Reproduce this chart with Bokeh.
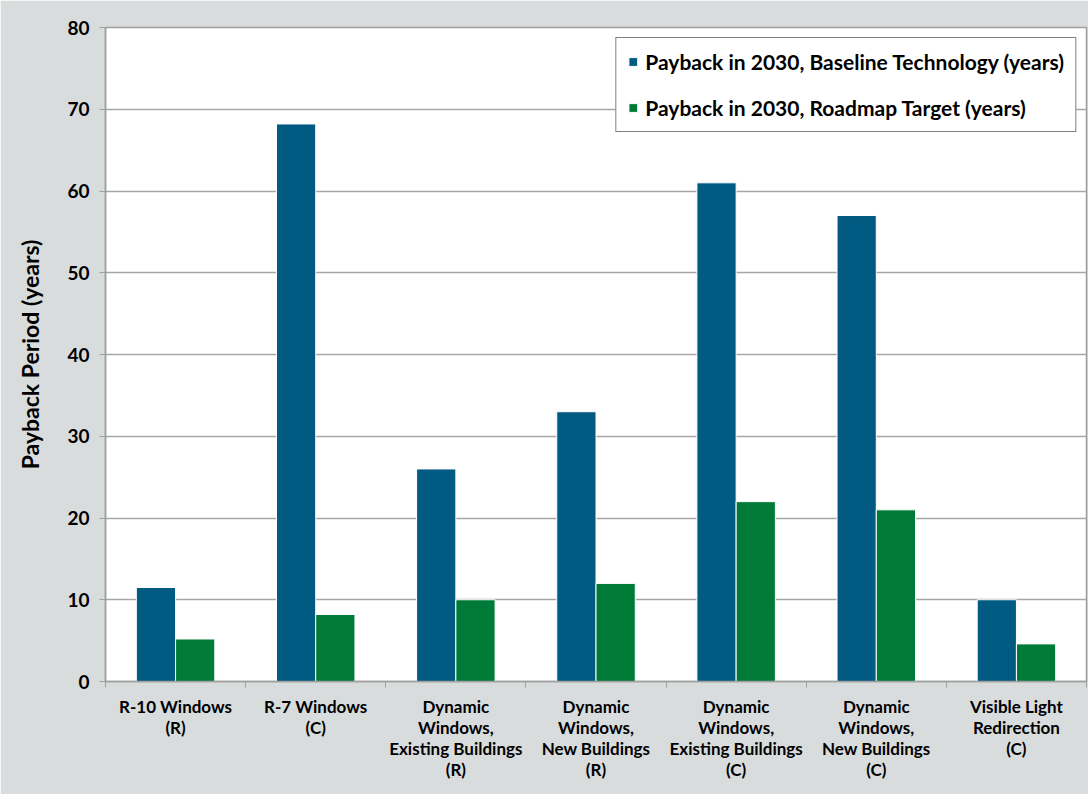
from bokeh.plotting import figure
from bokeh.models import ColumnDataSource, FixedTicker, Legend, LegendItem, Range1d
from bokeh.transform import dodge
from bokeh.embed import file_html
from bokeh.resources import INLINE

categories = ["R-10 Windows\n(R)", "R-7 Windows\n(C)",
              "Dynamic\nWindows,\nExisting Buildings\n(R)",
              "Dynamic\nWindows,\nNew Buildings\n(R)",
              "Dynamic\nWindows,\nExisting Buildings\n(C)",
              "Dynamic\nWindows,\nNew Buildings\n(C)",
              "Visible Light\nRedirection\n(C)"]
baseline = [11.5, 68.2, 26, 33, 61, 57, 10]
roadmap = [5.2, 8.2, 10, 12, 22, 21, 4.6]
y_ticks = [0, 10, 20, 30, 40, 50, 60, 70, 80]
series_names = ["Payback in 2030, Baseline Technology (years)",
                "Payback in 2030, Roadmap Target (years)"]

FONT = "Lato"
BG = "#d9dcdd"
BLUE = "#005a82"
GREEN = "#007a37"

pos = [i + 0.5 for i in range(len(categories))]
src = ColumnDataSource(dict(x=pos, base=baseline, road=roadmap))

p = figure(width=1088, height=794, output_backend="svg", toolbar_location=None,
           x_range=Range1d(0, len(categories)), y_range=Range1d(0, 80),
           min_border_left=105, min_border_right=2, min_border_top=27, min_border_bottom=113)
p.background_fill_color = "white"
p.border_fill_color = BG
p.outline_line_color = "#a0a0a0"
p.outline_line_width = 1.5

r1 = p.vbar(x=dodge("x", -0.14, range=p.x_range), top="base", width=0.28, source=src,
            fill_color=BLUE, line_color="white", line_width=1)
r2 = p.vbar(x=dodge("x", 0.14, range=p.x_range), top="road", width=0.28, source=src,
            fill_color=GREEN, line_color="white", line_width=1)

# axes
xa = p.xaxis[0]
xa.ticker = FixedTicker(ticks=pos, minor_ticks=list(range(len(categories) + 1)))
xa.major_label_overrides = {p_: c for p_, c in zip(pos, categories)}
xa.major_tick_line_color = None
xa.minor_tick_out = 6
xa.minor_tick_in = 0
xa.minor_tick_line_color = "#a0a0a0"
xa.axis_line_color = "#a0a0a0"
xa.axis_line_width = 1.5
xa.major_label_text_font = FONT
xa.major_label_text_font_style = "bold"
xa.major_label_text_font_size = "17px"
xa.major_label_text_color = "black"
xa.major_label_text_line_height = 1.0
xa.major_label_standoff = 8

ya = p.yaxis[0]
ya.ticker = FixedTicker(ticks=y_ticks)
ya.minor_tick_line_color = None
ya.major_tick_out = 6
ya.major_tick_in = 0
ya.major_tick_line_color = "#a0a0a0"
ya.axis_line_color = "#a0a0a0"
ya.axis_line_width = 1.5
ya.major_label_text_font = FONT
ya.major_label_text_font_style = "bold"
ya.major_label_text_font_size = "19px"
ya.major_label_text_color = "black"
ya.major_label_standoff = 10
ya.axis_label = "Payback Period (years)"
ya.axis_label_text_font = FONT
ya.axis_label_text_font_style = "bold"
ya.axis_label_text_font_size = "23px"
ya.axis_label_text_color = "black"
ya.axis_label_standoff = 20

p.xgrid.grid_line_color = None
p.ygrid.ticker = FixedTicker(ticks=y_ticks)
p.ygrid.grid_line_color = "#a6a6a6"
p.ygrid.grid_line_width = 1.5

legend = Legend(items=[LegendItem(label=series_names[0], renderers=[r1]),
                       LegendItem(label=series_names[1], renderers=[r2])],
                location="top_right")
legend.label_text_font = FONT
legend.label_text_font_style = "bold"
legend.label_text_font_size = "21px"
legend.label_text_color = "black"
legend.border_line_color = "black"
legend.border_line_width = 1.5
legend.background_fill_color = "white"
legend.background_fill_alpha = 1
legend.glyph_width = 11
legend.glyph_height = 11
legend.spacing = 21
legend.padding = 11
legend.margin = 10
legend.label_standoff = 7
legend.label_height = 25
p.add_layout(legend)

open("out.html", "w").write(file_html(p, INLINE))
